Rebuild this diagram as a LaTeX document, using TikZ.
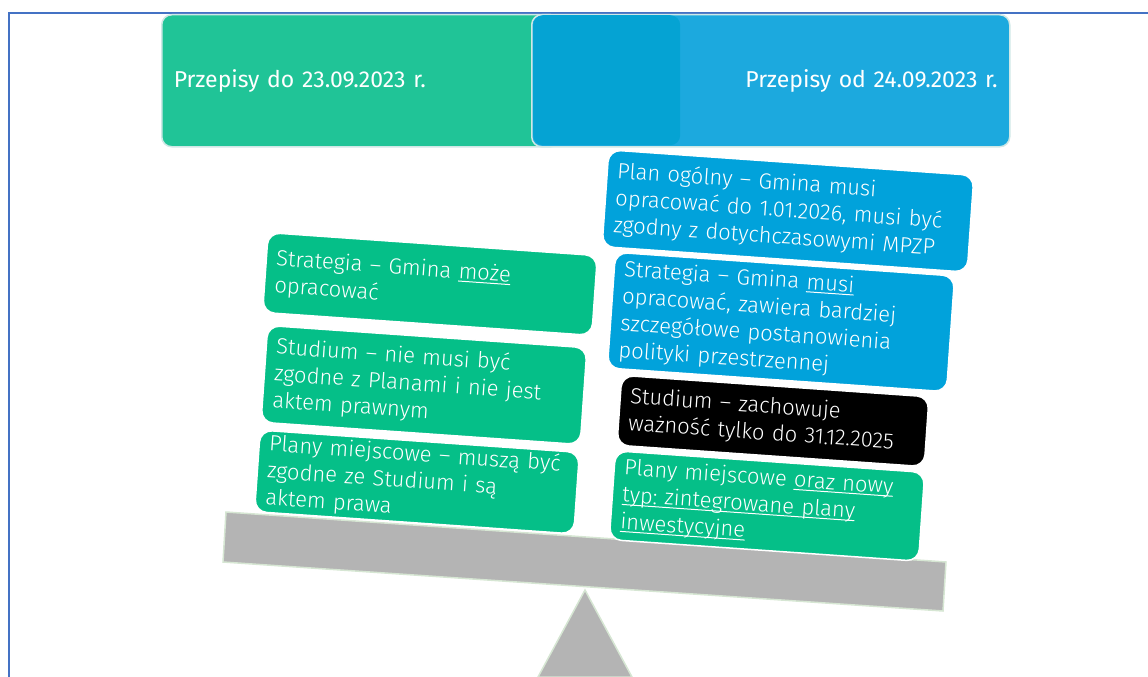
\documentclass[tikz,border=0pt]{standalone}
\usepackage{fontspec}
\setmainfont{Fira Sans}
\newfontfamily\lightfont{Fira Sans Light}
\newcommand{\undl}[1]{\leavevmode\setbox0\hbox{#1}\rlap{\rule[-3pt]{\wd0}{1pt}}\box0}
\frenchspacing
\definecolor{frameblue}{HTML}{4472C4}
\definecolor{topgreen}{HTML}{20C497}
\definecolor{topblue}{HTML}{1CA9DE}
\definecolor{innerblue}{HTML}{05A3D3}
\definecolor{cardgreen}{HTML}{05BF88}
\definecolor{cardblue}{HTML}{01A2DB}
\definecolor{beamgrey}{HTML}{B4B4B4}
\definecolor{beamedge}{HTML}{D6E6D3}
\definecolor{headedge}{HTML}{CFE8E6}
\tikzset{
  header/.style={draw=headedge, line width=1.5pt, rounded corners=10pt, text=white,
    font=\fontsize{23}{26}\selectfont, minimum height=132pt, inner xsep=12pt},
  card/.style={rotate=-4, draw=white, line width=1.5pt, rounded corners=12pt, text=white,
    align=left, inner xsep=10pt, inner ysep=3pt, font=\lightfont\fontsize{22}{27}\selectfont},
}

\begin{document}
\begin{tikzpicture}[x=1pt,y=-1pt]
\useasboundingbox (0,0) rectangle (1148,677);

% frame
\draw[frameblue, line width=2pt] (9,677) -- (9,13) -- (1148,13);

% headers
\node[header, fill=topgreen, text width=375pt, align=left, anchor=north west] (old) at (161,14) {Przepisy do 23.09.2023 r.};
\node[header, fill=topblue, text width=454pt, align=right, anchor=north west] (new) at (531,14) {Przepisy od 24.09.2023 r.};
\node[fill=innerblue, rounded corners=10pt, minimum width=147pt, minimum height=130pt, anchor=north west, inner sep=0pt] (shade) at (533,15) {};

% scale
\draw[fill=beamgrey, draw=beamedge, line width=1.5pt] (585,590) -- (632,677) -- (538,677) -- cycle;
\draw[fill=beamgrey, draw=beamedge, line width=1.5pt] (226,512) -- (946,562) -- (943,611) -- (223,562) -- cycle;

% left pan
\node[card, fill=cardgreen, text width=310pt, minimum height=80pt] (strategia) at (430,284)
  {Strategia – Gmina \undl{może}\\ opracować};
\node[card, fill=cardgreen, text width=300pt, minimum height=97pt] (studium) at (424,385)
  {Studium – nie musi być\\ zgodne z Planami i nie jest\\ aktem prawnym};
\node[card, fill=cardgreen, text width=300pt, minimum height=79pt] (plany) at (417,482)
  {Plany miejscowe – muszą być\\ zgodne ze Studium i są\\ aktem prawa};

% right pan
\node[card, fill=cardblue, text width=346pt, minimum height=97pt] (ogolny) at (788,211)
  {Plan ogólny – Gmina musi\\ opracować do 1.01.2026, musi być\\ zgodny z dotychczasowymi MPZP};
\node[card, fill=cardblue, text width=320pt, minimum height=116pt] (strategia2) at (781,322)
  {Strategia – Gmina \undl{musi}\\ opracować, zawiera bardziej\\ szczegółowe postanowienia\\ polityki przestrzennej};
\node[card, fill=black, text width=288pt, minimum height=70pt] (studium2) at (773,421)
  {Studium – zachowuje\\ ważność tylko do 31.12.2025};
\node[card, fill=cardgreen, text width=290pt, minimum height=89pt] (plany2) at (767,506)
  {Plany miejscowe \undl{oraz nowy}\\ \undl{typ: zintegrowane plany}\\ \undl{inwestycyjne}};
\end{tikzpicture}
\end{document}
